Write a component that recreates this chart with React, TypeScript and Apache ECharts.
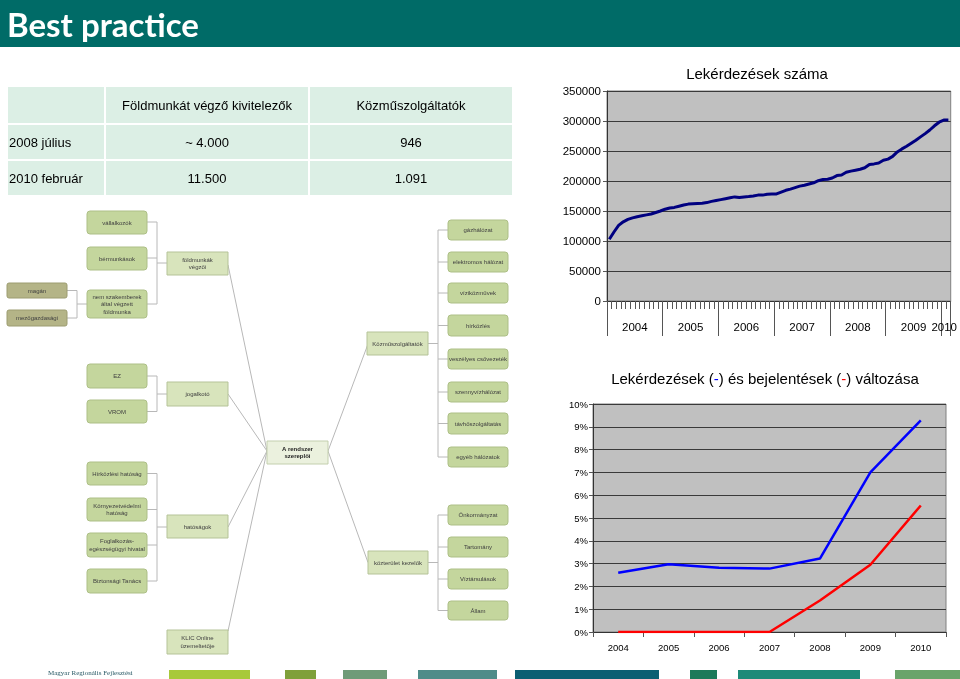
import React, { useEffect, useRef } from 'react';
import * as echarts from 'echarts';

// ---------- DATA ----------
const queryMonthly = [
  103000, 115000, 126000, 132000, 136000, 138500, 140500, 142000, 143500, 145000, 147500, 150000,
  153000, 155000, 156000, 158000, 160000, 161500, 162000, 162500, 163000, 164000, 166000, 167500,
  169000, 170500, 172000, 173500, 172500, 173500, 174000, 175000, 176500, 176500, 178000, 178500,
  178500, 181500, 184500, 186500, 189000, 191500, 193000, 195000, 197000, 200500, 202500, 203000,
  205000, 209000, 210000, 214500, 216500, 218000, 219500, 222000, 227500, 228500, 230000, 234500,
  236500, 241000, 248500, 253500, 258000, 263000, 268000, 273500, 279000, 285000, 292000, 298000,
  301500, 301500,
];
const topYearLabels = ['2004', '2005', '2006', '2007', '2008', '2009', '2010'];
const topYearLabelPos = [6, 18, 30, 42, 54, 66, 72.6];
const topYearBoundaries = [0, 12, 24, 36, 48, 60, 72, 74];

const years = ['2004', '2005', '2006', '2007', '2008', '2009', '2010'];
const queryChange = [2.6, 2.97, 2.82, 2.78, 3.22, 7.0, 9.28];
const reportChange = [0, 0, 0, 0, 1.38, 2.95, 5.55];

const tableHeader = ['', 'Földmunkát végző kivitelezők', 'Közműszolgáltatók'];
const tableRows = [
  ['2008 július', '~ 4.000', '946'],
  ['2010 február', '11.500', '1.091'],
];

// ---------- DIAGRAM LAYOUT ----------
type Node = [number, number, number, number, string, string];
const nodes: Node[] = [
  [87, 211, 60, 23, 'vállalkozók', 'leaf'],
  [87, 247, 60, 23, 'bérmunkások', 'leaf'],
  [87, 290, 60, 28, 'nem szakemberek\náltal végzett\nföldmunka', 'leaf'],
  [7, 283, 60, 15, 'magán', 'dark'],
  [7, 310, 60, 16, 'mezőgazdasági', 'dark'],
  [167, 252, 61, 23, 'földmunkák\nvégzői', 'mid'],
  [87, 364, 60, 24, 'EZ', 'leaf'],
  [87, 400, 60, 23, 'VROM', 'leaf'],
  [167, 382, 61, 24, 'jogalkotó', 'mid'],
  [87, 462, 60, 23, 'Hírközlési hatóság', 'leaf'],
  [87, 498, 60, 23, 'Környezetvédelmi\nhatóság', 'leaf'],
  [87, 533, 60, 24, 'Foglalkozás-\negészségügyi hivatal', 'leaf'],
  [87, 569, 60, 24, 'Biztonsági Tanács', 'leaf'],
  [167, 515, 61, 23, 'hatóságok', 'mid'],
  [167, 630, 61, 24, 'KLIC Online\nüzemeltetője', 'mid'],
  [267, 441, 61, 23, 'A rendszer\nszereplői', 'center'],
  [367, 332, 61, 23, 'Közműszolgáltatók', 'mid'],
  [368, 551, 60, 23, 'közterület kezelők', 'mid'],
  [448, 220, 60, 20, 'gázhálózat', 'leaf'],
  [448, 252, 60, 20, 'elektromos hálózat', 'leaf'],
  [448, 283, 60, 20, 'víziközművek', 'leaf'],
  [448, 315, 60, 21, 'hírközlés', 'leaf'],
  [448, 349, 60, 20, 'veszélyes csővezeték', 'leaf'],
  [448, 382, 60, 20, 'szennyvízhálózat', 'leaf'],
  [448, 413, 60, 21, 'távhőszolgáltatás', 'leaf'],
  [448, 447, 60, 20, 'egyéb hálózatok', 'leaf'],
  [448, 505, 60, 20, 'Önkormányzat', 'leaf'],
  [448, 537, 60, 20, 'Tartomány', 'leaf'],
  [448, 569, 60, 20, 'Víztársulások', 'leaf'],
  [448, 601, 60, 19, 'Állam', 'leaf'],
];

const lines: number[][] = [
  [147, 222, 157, 222], [147, 258, 157, 258], [147, 304, 157, 304], [157, 222, 157, 304], [157, 263, 167, 263],
  [67, 290.5, 77, 290.5], [67, 318, 77, 318], [77, 290.5, 77, 318], [77, 304, 87, 304],
  [147, 376, 157, 376], [147, 411.5, 157, 411.5], [157, 376, 157, 411.5], [157, 394, 167, 394],
  [147, 473.5, 157, 473.5], [147, 509.5, 157, 509.5], [147, 545, 157, 545], [147, 581, 157, 581],
  [157, 473.5, 157, 581], [157, 527, 167, 527],
  [428, 343.5, 438, 343.5], [438, 230, 438, 457],
  [438, 230, 448, 230], [438, 262, 448, 262], [438, 293, 448, 293], [438, 325.5, 448, 325.5],
  [438, 359, 448, 359], [438, 392, 448, 392], [438, 423.5, 448, 423.5], [438, 457, 448, 457],
  [428, 562.5, 438, 562.5], [438, 515, 438, 610.5],
  [438, 515, 448, 515], [438, 547, 448, 547], [438, 579, 448, 579], [438, 610.5, 448, 610.5],
  [228, 265, 267, 451], [228, 394, 267, 451], [228, 527, 267, 451], [228, 631, 267, 451],
  [328, 451, 368, 344], [328, 451, 368, 562.5],
];

const stripBlocks: [number, number, string][] = [
  [169, 250, '#a8c93a'],
  [285, 316, '#7fa03a'],
  [343, 387, '#6f9b78'],
  [418, 497, '#4e8c89'],
  [515, 659, '#0b5f73'],
  [690, 717, '#1c7a5a'],
  [738, 860, '#1d8a78'],
  [895, 960, '#6aa46a'],
];

const nodeStyles: Record<string, { fill: string; stroke: string; r: number }> = {
  leaf: { fill: '#c4d69d', stroke: '#adbf87', r: 3 },
  mid: { fill: '#d8e4bc', stroke: '#b5c398', r: 0 },
  dark: { fill: '#b4b487', stroke: '#9c9c70', r: 2 },
  center: { fill: '#ebf1de', stroke: '#c3cfae', r: 0 },
};

const SANS = '"Liberation Sans", Arial, sans-serif';

function txt(x: number, y: number, text: string, font: string, fill: string, align = 'center') {
  return {
    type: 'text',
    x,
    y,
    style: { text, font, fill, textAlign: align, textVerticalAlign: 'middle' },
  };
}

function buildGraphic() {
  const g: any[] = [];
  g.push({ type: 'rect', shape: { x: 0, y: 0, width: 960, height: 47 }, style: { fill: '#006b67' } });
  g.push(txt(7, 24, 'Best practice', 'bold 33px Lato, "Open Sans", sans-serif', '#ffffff', 'left'));

  const cols = [[8, 104], [106, 308], [310, 512]];
  const rows = [[87, 123], [125, 159], [161, 195]];
  const all = [tableHeader, ...tableRows];
  rows.forEach(([y0, y1], ri) => {
    cols.forEach(([x0, x1], ci) => {
      g.push({ type: 'rect', shape: { x: x0, y: y0, width: x1 - x0, height: y1 - y0 }, style: { fill: '#dcefe5' } });
      const t = all[ri][ci];
      if (t) {
        if (ci === 0) g.push(txt(x0 + 1, (y0 + y1) / 2, t, `13px ${SANS}`, '#000', 'left'));
        else g.push(txt((x0 + x1) / 2, (y0 + y1) / 2, t, `13px ${SANS}`, '#000', 'center'));
      }
    });
  });

  lines.forEach(([x1, y1, x2, y2]) => {
    g.push({ type: 'line', shape: { x1, y1, x2, y2 }, style: { stroke: '#b8b8b8', lineWidth: 1 } });
  });
  nodes.forEach(([x, y, w, h, t, kind]) => {
    const s = nodeStyles[kind];
    g.push({
      type: 'rect',
      shape: { x, y, width: w, height: h, r: s.r },
      style: { fill: s.fill, stroke: s.stroke, lineWidth: 1 },
    });
    const font = kind === 'center' ? `bold 6px ${SANS}` : `6px ${SANS}`;
    g.push({
      type: 'text',
      x: x + w / 2,
      y: y + h / 2,
      style: { text: t, font, fill: kind === 'center' ? '#222' : '#404040', textAlign: 'center', textVerticalAlign: 'middle', lineHeight: 7.5 },
    });
  });

  g.push(txt(757, 73, 'Lekérdezések száma', `15px ${SANS}`, '#000'));
  g.push({
    type: 'text',
    x: 765,
    y: 378,
    style: {
      text: 'Lekérdezések ({b|-}) és bejelentések ({r|-}) változása',
      font: `15px ${SANS}`,
      fill: '#000',
      textAlign: 'center',
      textVerticalAlign: 'middle',
      rich: {
        b: { fill: '#0000ff', font: `15px ${SANS}` },
        r: { fill: '#ff0000', font: `15px ${SANS}` },
      },
    },
  });

  stripBlocks.forEach(([x0, x1, c]) => {
    g.push({ type: 'rect', shape: { x: x0, y: 670, width: x1 - x0, height: 9 }, style: { fill: c } });
  });
  g.push(txt(48, 673, 'Magyar Regionális Fejlesztési', '7px "Liberation Serif", serif', '#2a5a66', 'left'));
  return g;
}

const monthLabels = queryMonthly.map((_, i) => `${2004 + Math.floor(i / 12)}.${String((i % 12) + 1).padStart(2, '0')}`);

export default function App() {
  const ref = useRef<HTMLDivElement>(null);
  useEffect(() => {
    document.body.style.margin = '0';
    const chart = echarts.init(ref.current!, undefined, { renderer: 'svg' });
    const axisColor = '#333';
    chart.setOption({
      animation: false,
      textStyle: { fontFamily: SANS },
      grid: [
        { left: 607, top: 91, width: 346, height: 210, show: true, backgroundColor: '#c0c0c0', borderColor: '#808080', borderWidth: 1 },
        { left: 593, top: 404, width: 353, height: 228, show: true, backgroundColor: '#c0c0c0', borderColor: '#808080', borderWidth: 1 },
      ],
      xAxis: [
        {
          type: 'category',
          gridIndex: 0,
          data: monthLabels,
          boundaryGap: true,
          axisLine: { lineStyle: { color: axisColor } },
          axisTick: { show: true, interval: 0, length: 8, lineStyle: { color: '#555' } },
          axisLabel: { show: false },
          splitLine: { show: false },
        },
        {
          type: 'value',
          gridIndex: 0,
          min: 0,
          max: 74,
          position: 'bottom',
          axisLine: { show: false },
          splitLine: { show: false },
          axisTick: { show: true, length: 35, customValues: topYearBoundaries, lineStyle: { color: '#555' } },
          axisLabel: {
            show: true,
            customValues: topYearLabelPos,
            margin: 20,
            fontSize: 11.5,
            color: '#000',
            formatter: (v: number) => {
              let best = 0;
              topYearLabelPos.forEach((p, i) => {
                if (Math.abs(p - v) < Math.abs(topYearLabelPos[best] - v)) best = i;
              });
              return topYearLabels[best];
            },
          },
        },
        {
          type: 'category',
          gridIndex: 1,
          data: years,
          boundaryGap: true,
          axisLine: { lineStyle: { color: axisColor } },
          axisTick: { show: true, length: 5, lineStyle: { color: '#555' } },
          axisLabel: { fontSize: 9.5, color: '#000', margin: 10 },
        },
      ],
      yAxis: [
        {
          type: 'value',
          gridIndex: 0,
          min: 0,
          max: 350000,
          interval: 50000,
          axisLine: { show: true, lineStyle: { color: axisColor } },
          axisTick: { show: true, length: 4, lineStyle: { color: '#555' } },
          axisLabel: { fontSize: 11.5, color: '#000', margin: 6, formatter: (v: number) => String(v) },
          splitLine: { lineStyle: { color: '#3a3a3a', width: 1 } },
        },
        {
          type: 'value',
          gridIndex: 1,
          min: 0,
          max: 10,
          interval: 1,
          axisLine: { show: true, lineStyle: { color: axisColor } },
          axisTick: { show: true, length: 4, lineStyle: { color: '#555' } },
          axisLabel: { fontSize: 9.5, color: '#000', margin: 5, formatter: '{value}%' },
          splitLine: { lineStyle: { color: '#3a3a3a', width: 1 } },
        },
      ],
      series: [
        {
          type: 'line',
          xAxisIndex: 0,
          yAxisIndex: 0,
          data: queryMonthly,
          symbol: 'none',
          lineStyle: { color: '#000080', width: 3 },
        },
        {
          type: 'line',
          xAxisIndex: 2,
          yAxisIndex: 1,
          data: queryChange,
          symbol: 'none',
          lineStyle: { color: '#0000ff', width: 2.5 },
        },
        {
          type: 'line',
          xAxisIndex: 2,
          yAxisIndex: 1,
          data: reportChange,
          symbol: 'none',
          lineStyle: { color: '#ff0000', width: 2.5 },
        },
      ],
      graphic: buildGraphic(),
    });
    return () => chart.dispose();
  }, []);
  return <div ref={ref} style={{ position: 'fixed', left: 0, top: 0, width: 960, height: 679 }} />;
}
